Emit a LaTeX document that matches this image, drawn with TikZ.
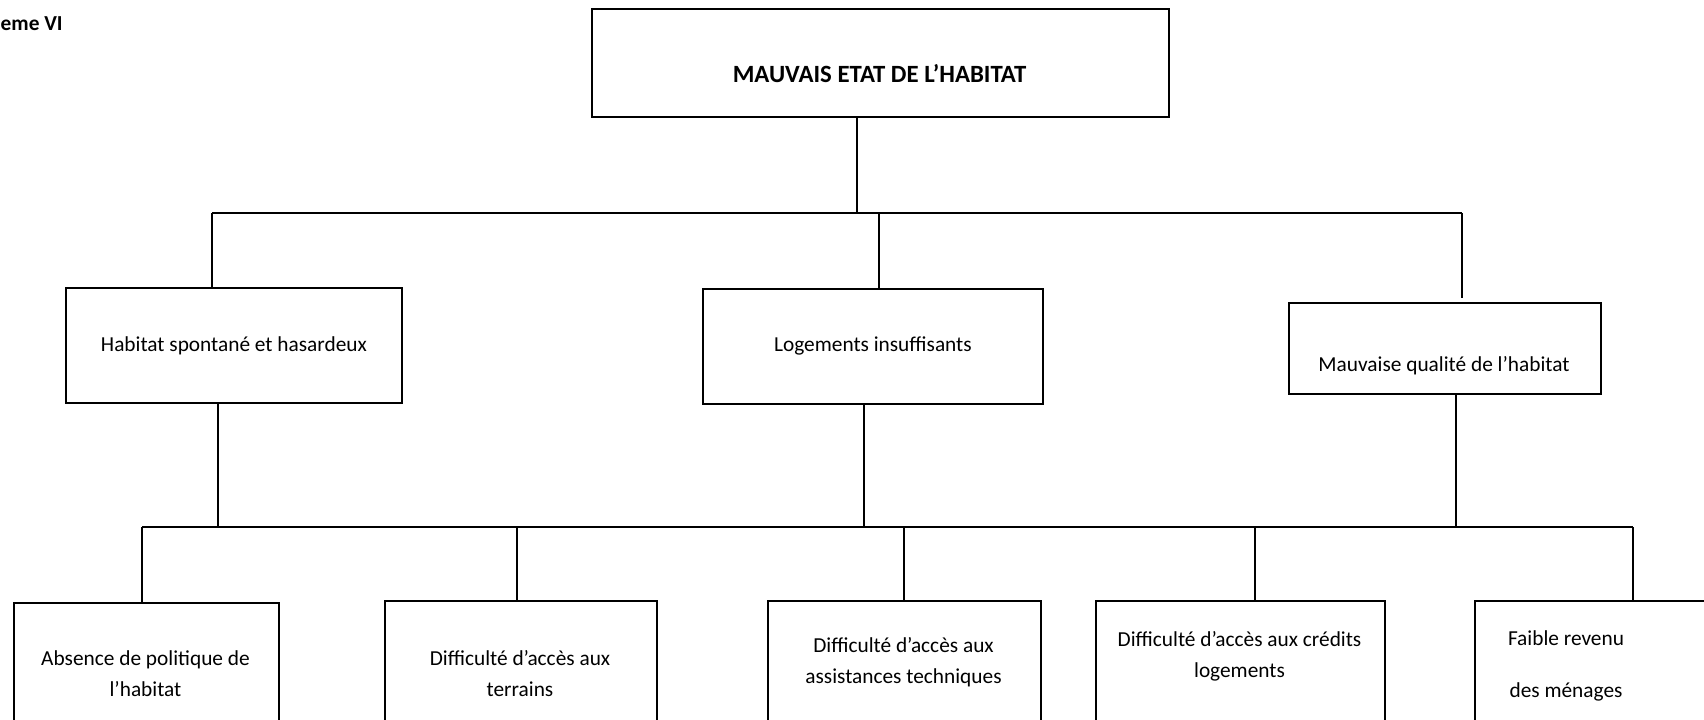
\documentclass[tikz,border=0pt]{standalone}
\usepackage{fontspec}
\setmainfont{Carlito}
\usetikzlibrary{positioning}
\tikzset{
  blk/.style={draw,rectangle,line width=1.4pt,inner sep=0pt,anchor=north west},
  txt/.style={font=\fontsize{16}{23}\selectfont,align=center},
  ttl/.style={font=\fontsize{16}{23}\selectfont\bfseries},
  lnk/.style={line width=1.4pt}
}

\begin{document}
\begin{tikzpicture}[x=0.75pt,y=-0.75pt]
  \useasboundingbox (0,0) rectangle (1704,720);
  \clip (0,0) rectangle (1704,720);

  \node[ttl,anchor=west] (schema) at (-4,24) {eme VI};

  % probleme central
  \node[blk,minimum width=432.75pt,minimum height=81pt] (top) at (591,8) {};
  \node[ttl,font=\fontsize{18.6}{23}\selectfont\bfseries] (ttop) at (879.5,74) {MAUVAIS ETAT DE L’HABITAT};

  % causes directes
  \node[blk,minimum width=252pt,minimum height=86.25pt] (hab) at (65,287) {};
  \node[blk,minimum width=255pt,minimum height=86.25pt] (log) at (702,288) {};
  \node[blk,minimum width=234pt,minimum height=68.25pt] (qual) at (1288,302) {};
  \node[txt] (thab) at (hab.center) {Habitat spontané et hasardeux};
  \node[txt] (tlog) at (log.center) {Logements insuffisants};
  \node[txt] (tqual) at (1444,366) {Mauvaise qualité de l’habitat};

  % causes profondes
  \node[blk,minimum width=198.75pt,minimum height=108pt] (pol) at (13,602) {};
  \node[blk,minimum width=204pt,minimum height=108pt] (ter) at (384,600) {};
  \node[blk,minimum width=204.75pt,minimum height=108pt] (ass) at (767,600) {};
  \node[blk,minimum width=216.75pt,minimum height=108pt] (cre) at (1095,600) {};
  \node[blk,minimum width=195pt,minimum height=108pt] (rev) at (1474,600) {};
  \node[txt] (tpol) at (145.5,673.75) {Absence de politique de\\l’habitat};
  \node[txt] (tter) at (520,673.75) {Difficulté d’accès aux\\terrains};
  \node[txt] (tass) at (903.5,662) {Difficulté d’accès aux\\assistances techniques};
  \node[txt] (tcre) at (1239.5,656) {Difficulté d’accès aux crédits\\logements};
  \node[txt] (trev) at (1566,666) {Faible revenu\\[16pt]des ménages};

  % liaisons haut
  \coordinate (jt) at (857,213);
  \coordinate (jl) at (212,213);
  \coordinate (jm) at (879,213);
  \coordinate (jr) at (1462,213);
  \draw[lnk] (top.south -| jt) -- (jt);
  \draw[lnk] (jl) -- (jr);
  \draw[lnk] (jl) -- (jl |- hab.north);
  \draw[lnk] (jm) -- (jm |- log.north);
  \draw[lnk] (jr) -- ([yshift=3pt]jr |- qual.north);

  % liaisons bas
  \coordinate (kl) at (142,527);
  \coordinate (kr) at (1633,527);
  \coordinate (k1) at (218,527);
  \coordinate (k2) at (864,527);
  \coordinate (k3) at (1456,527);
  \coordinate (d2) at (517,527);
  \coordinate (d3) at (904,527);
  \coordinate (d4) at (1255,527);
  \draw[lnk] (hab.south -| k1) -- (k1);
  \draw[lnk] (log.south -| k2) -- (k2);
  \draw[lnk] (qual.south -| k3) -- (k3);
  \draw[lnk] (kl) -- (kr);
  \draw[lnk] (kl) -- (kl |- pol.north);
  \draw[lnk] (d2) -- (d2 |- ter.north);
  \draw[lnk] (d3) -- (d3 |- ass.north);
  \draw[lnk] (d4) -- (d4 |- cre.north);
  \draw[lnk] (kr) -- (kr |- rev.north);
\end{tikzpicture}
\end{document}
